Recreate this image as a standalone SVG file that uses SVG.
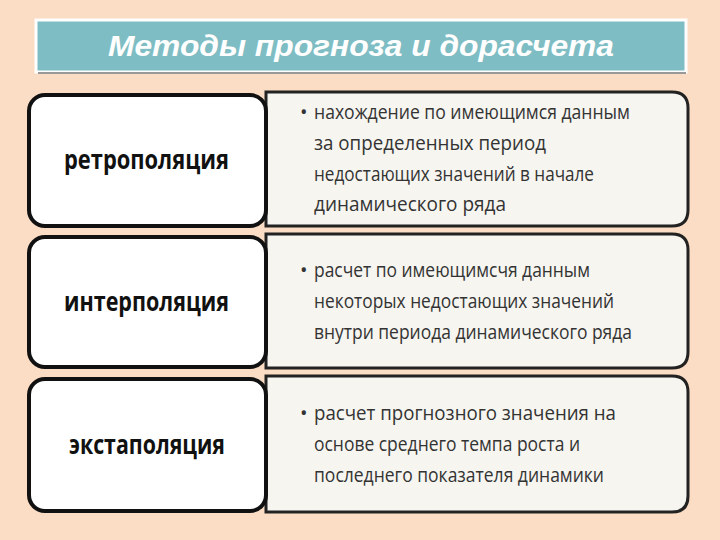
<svg xmlns="http://www.w3.org/2000/svg" width="720" height="540" viewBox="0 0 720 540">
<style>
.l{fill:#fff;stroke:#111;stroke-width:4}
.r{fill:#f6f5f0;stroke:#222;stroke-width:3}
.lt{font-family:"Open Sans","Liberation Sans",sans-serif;font-weight:bold;font-size:26px;fill:#111}
.rt{font-family:"Open Sans","Liberation Sans",sans-serif;font-size:20px;fill:#333}
</style>
<rect width="720" height="540" fill="#fbdcc4"/>
<g id="title">
<rect x="36" y="20" width="650" height="52" fill="#7fbdc4" stroke="#fff" stroke-width="3"/>
<line x1="38" y1="73" x2="686" y2="73" stroke="#999" stroke-width="2"/>
<text x="108" y="56" textLength="506" lengthAdjust="spacingAndGlyphs" font-family="Liberation Sans,sans-serif" font-size="29" font-style="italic" font-weight="bold" fill="#fff">Методы прогноза и дорасчета</text>
</g>
<g id="row1">
<path class="r" d="M266 92 H672 Q688 92 688 108 V210 Q688 226 672 226 H266 Z"/>
<rect class="l" x="29" y="95" width="237" height="131" rx="16"/>
<text class="lt" x="64" y="169" textLength="165" lengthAdjust="spacingAndGlyphs">ретрополяция</text>
<text class="rt" lengthAdjust="spacingAndGlyphs"><tspan x="300" y="119">•</tspan><tspan x="314" y="119" textLength="316" lengthAdjust="spacingAndGlyphs">нахождение по имеющимся данным</tspan><tspan x="314" y="150" textLength="232" lengthAdjust="spacingAndGlyphs">за определенных период</tspan><tspan x="314" y="181" textLength="280" lengthAdjust="spacingAndGlyphs">недостающих значений в начале</tspan><tspan x="314" y="211" textLength="192" lengthAdjust="spacingAndGlyphs">динамического ряда</tspan></text>
</g>
<g id="row2">
<path class="r" d="M266 234 H672 Q688 234 688 250 V352 Q688 368 672 368 H266 Z"/>
<rect class="l" x="29" y="237" width="237" height="130" rx="16"/>
<text class="lt" x="64" y="311" textLength="165" lengthAdjust="spacingAndGlyphs">интерполяция</text>
<text class="rt"><tspan x="300" y="277">•</tspan><tspan x="314" y="277" textLength="276" lengthAdjust="spacingAndGlyphs">расчет по имеющимсчя данным</tspan><tspan x="314" y="308" textLength="300" lengthAdjust="spacingAndGlyphs">некоторых недостающих значений</tspan><tspan x="314" y="339" textLength="318" lengthAdjust="spacingAndGlyphs">внутри периода динамического ряда</tspan></text>
</g>
<g id="row3">
<path class="r" d="M266 376 H672 Q688 376 688 392 V496 Q688 512 672 512 H266 Z"/>
<rect class="l" x="29" y="379" width="237" height="132" rx="16"/>
<text class="lt" x="69" y="454" textLength="156" lengthAdjust="spacingAndGlyphs">экстаполяция</text>
<text class="rt"><tspan x="300" y="420">•</tspan><tspan x="314" y="420" textLength="302" lengthAdjust="spacingAndGlyphs">расчет прогнозного значения на</tspan><tspan x="314" y="451" textLength="266" lengthAdjust="spacingAndGlyphs">основе среднего темпа роста и</tspan><tspan x="314" y="482" textLength="290" lengthAdjust="spacingAndGlyphs">последнего показателя динамики</tspan></text>
</g>
</svg>
